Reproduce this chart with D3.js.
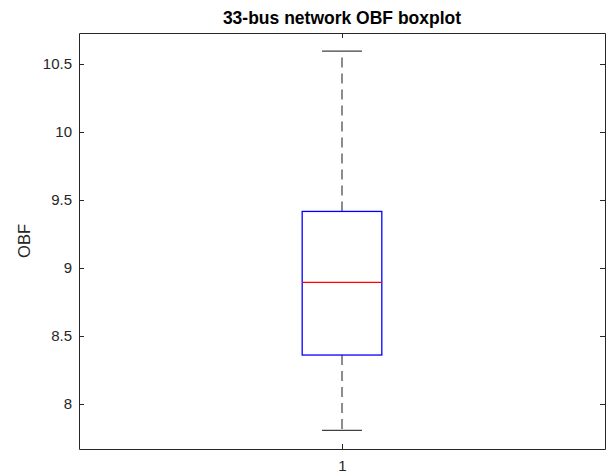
<!DOCTYPE html>
<html><head><meta charset="utf-8">
<script src="https://cdn.jsdelivr.net/npm/d3@7"></script>
<style>
html,body{margin:0;padding:0;background:#fff;}
svg{display:block;font-family:Arial,"Liberation Sans",Helvetica,sans-serif;}
</style></head>
<body>
<script>
// ---- data ----
const categories = ["1"];
const lowerWhisker = [7.806];
const q1Values = [8.36];
const medianValues = [8.894];
const q3Values = [9.416];
const upperWhisker = [10.594];
const yTicks = [8, 8.5, 9, 9.5, 10, 10.5];
const yTickLabels = ["8", "8.5", "9", "9.5", "10", "10.5"];
const titleText = "33-bus network OBF boxplot";
const yLabelText = "OBF";

const W = 608, H = 476;
const margin = {left: 79, right: 3, top: 33, bottom: 27};
const svg = d3.select("body").append("svg").attr("width", W).attr("height", H);

const x = d3.scaleLinear().domain([0.5, categories.length + 0.5])
  .range([margin.left, W - margin.right]);
const y = d3.scaleLinear().domain([7.669, 10.728])
  .range([H - margin.bottom, margin.top]);

const axisColor = "#262626";
const g = svg.append("g");

// axes (MATLAB style: ticks inside, box)
const yAxisL = d3.axisLeft(y).tickValues(yTicks).tickFormat((d,i)=>yTickLabels[i]).tickSizeInner(-5).tickSizeOuter(0).tickPadding(7);
const yAxisR = d3.axisRight(y).tickValues(yTicks).tickFormat("").tickSizeInner(-5).tickSizeOuter(0);
const xAxisB = d3.axisBottom(x).tickValues(categories.map((c,i)=>i+1)).tickFormat((d,i)=>categories[i]).tickSizeInner(-5).tickSizeOuter(0).tickPadding(11);
const xAxisT = d3.axisTop(x).tickValues(categories.map((c,i)=>i+1)).tickFormat("").tickSizeInner(-5).tickSizeOuter(0);

function styleAxis(sel){
  sel.selectAll("path.domain").attr("stroke", axisColor).attr("stroke-width", 1);
  sel.selectAll(".tick line").attr("stroke", axisColor).attr("stroke-width", 1);
  sel.selectAll(".tick text").attr("fill", axisColor).style("font-size", "15px").style("font-family", "Arial, 'Liberation Sans', sans-serif");
}
styleAxis(g.append("g").attr("transform", `translate(${margin.left},0)`).call(yAxisL));
styleAxis(g.append("g").attr("transform", `translate(${W - margin.right},0)`).call(yAxisR));
styleAxis(g.append("g").attr("transform", `translate(0,${H - margin.bottom})`).call(xAxisB));
styleAxis(g.append("g").attr("transform", `translate(0,${margin.top})`).call(xAxisT));

// boxplot
const boxHalf = 0.0757, capHalf = 0.038;
const bp = svg.append("g");
categories.forEach((c, i) => {
  const cx = x(i + 1);
  // whiskers (drawn from box outward)
  bp.append("line").attr("x1", cx).attr("x2", cx).attr("y1", y(q3Values[i])).attr("y2", y(upperWhisker[i]))
    .attr("stroke", "#707070").attr("stroke-width", 1.6).attr("stroke-dasharray", "10,6");
  bp.append("line").attr("x1", cx).attr("x2", cx).attr("y1", y(q1Values[i])).attr("y2", y(lowerWhisker[i]))
    .attr("stroke", "#707070").attr("stroke-width", 1.6).attr("stroke-dasharray", "10,6");
  // caps
  [upperWhisker[i], lowerWhisker[i]].forEach(v => {
    bp.append("line").attr("x1", x(i + 1 - capHalf)).attr("x2", x(i + 1 + capHalf))
      .attr("y1", y(v)).attr("y2", y(v)).attr("stroke", "#404040").attr("stroke-width", 1.3);
  });
  // box
  bp.append("rect").attr("x", x(i + 1 - boxHalf)).attr("width", x(i + 1 + boxHalf) - x(i + 1 - boxHalf))
    .attr("y", y(q3Values[i])).attr("height", y(q1Values[i]) - y(q3Values[i]))
    .attr("fill", "none").attr("stroke", "#0000ff").attr("stroke-width", 1.3);
  // median
  bp.append("line").attr("x1", x(i + 1 - boxHalf)).attr("x2", x(i + 1 + boxHalf))
    .attr("y1", y(medianValues[i])).attr("y2", y(medianValues[i]))
    .attr("stroke", "#ff0000").attr("stroke-width", 1.3);
});

// title
svg.append("text").attr("x", (margin.left + W - margin.right) / 2).attr("y", 24)
  .attr("text-anchor", "middle").attr("fill", "#000").style("font-weight", "bold").style("font-size", "17.5px")
  .text(titleText);
// y label
svg.append("text").attr("transform", `translate(30,${(margin.top + H - margin.bottom) / 2}) rotate(-90)`)
  .attr("text-anchor", "middle").attr("fill", axisColor).style("font-size", "16.5px")
  .text(yLabelText);
</script>
</body></html>
